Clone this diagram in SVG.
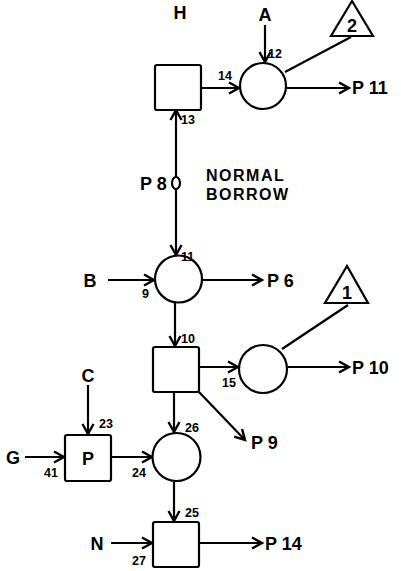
<svg xmlns="http://www.w3.org/2000/svg" width="401" height="571" viewBox="0 0 401 571">
<defs>
<marker id="ah" markerUnits="userSpaceOnUse" markerWidth="16" markerHeight="16" refX="11" refY="7" orient="auto">
<path d="M1,1.5 L11,7 L1,12.5" fill="none" stroke="#000" stroke-width="2.4" stroke-linejoin="miter"/>
</marker>
</defs>
<style>
.n{fill:#fff;stroke:#000;stroke-width:2.2}
.c line,.c path{stroke:#000;stroke-width:2.2;fill:none}
.a{marker-end:url(#ah)}
.t{font-family:"Liberation Sans",Arial,sans-serif;font-weight:bold;font-size:18px;fill:#000}
.s{font-family:"Liberation Sans",Arial,sans-serif;font-weight:bold;font-size:12.5px;fill:#000}
.m{font-family:"Liberation Sans",Arial,sans-serif;font-weight:bold;font-size:16px;fill:#000;letter-spacing:1.5px}
</style>
<rect width="401" height="571" fill="#fff"/>
<g class="c" id="connectors">
<line class="a" x1="201" y1="88" x2="239" y2="88"/>
<line class="a" x1="265" y1="25" x2="265" y2="62"/>
<line x1="285" y1="72" x2="351" y2="37"/>
<line class="a" x1="287" y1="88" x2="349" y2="88"/>
<line class="a" x1="176" y1="177" x2="176" y2="110"/>
<line class="a" x1="176" y1="189" x2="176" y2="255"/>
<line class="a" x1="108" y1="280" x2="154" y2="280"/>
<line class="a" x1="202" y1="280" x2="262" y2="280"/>
<line class="a" x1="175" y1="303" x2="175" y2="346"/>
<line class="a" x1="199" y1="367" x2="238" y2="367"/>
<line x1="282" y1="349" x2="348" y2="305"/>
<line class="a" x1="288" y1="367" x2="349" y2="367"/>
<line class="a" x1="88" y1="385" x2="88" y2="434"/>
<line class="a" x1="25" y1="457" x2="64" y2="457"/>
<line class="a" x1="111" y1="457" x2="152" y2="457"/>
<line class="a" x1="174" y1="392" x2="174" y2="432"/>
<line class="a" x1="199" y1="392" x2="245" y2="440"/>
<line class="a" x1="174" y1="482" x2="174" y2="521"/>
<line class="a" x1="111" y1="543" x2="152" y2="543"/>
<line class="a" x1="199" y1="543" x2="262" y2="543"/>
</g>
<g id="H"><text class="t" x="180" y="19" text-anchor="middle">H</text></g>
<g id="A"><text class="t" x="265" y="21" text-anchor="middle">A</text></g>
<g id="sq13"><rect class="n" x="155" y="65" width="46" height="45" rx="2"/></g>
<g id="c14"><circle class="n" cx="263" cy="86" r="23"/></g>
<g id="tri2"><path class="n" d="M352,1 L331,36 L373,36 Z"/><text class="t" x="352" y="32" text-anchor="middle">2</text></g>
<g id="p8"><ellipse class="n" cx="176" cy="183" rx="4" ry="6"/></g>
<g id="cB"><circle class="n" cx="178.5" cy="279" r="23.5"/></g>
<g id="sq10"><rect class="n" x="153" y="347" width="46" height="45" rx="2"/></g>
<g id="c15"><circle class="n" cx="263" cy="369" r="24"/></g>
<g id="tri1"><path class="n" d="M347,266 L325,303 L368,303 Z"/><text class="t" x="347" y="299" text-anchor="middle">1</text></g>
<g id="sqP"><rect class="n" x="65" y="435" width="46" height="46" rx="2"/><text class="t" x="88" y="465" text-anchor="middle">P</text></g>
<g id="c26"><circle class="n" cx="176.5" cy="457" r="24"/></g>
<g id="sq27"><rect class="n" x="153" y="522" width="46" height="45" rx="2"/></g>
<g id="labels">
<text class="t" x="352" y="94">P 11</text>
<text class="t" x="140" y="190">P 8</text>
<text class="m" x="206" y="181">NORMAL</text>
<text class="m" x="206" y="200">BORROW</text>
<text class="t" x="90" y="287" text-anchor="middle">B</text>
<text class="t" x="267" y="287">P 6</text>
<text class="t" x="352" y="374">P 10</text>
<text class="t" x="88" y="382" text-anchor="middle">C</text>
<text class="t" x="13" y="464" text-anchor="middle">G</text>
<text class="t" x="251" y="449">P 9</text>
<text class="t" x="97" y="550" text-anchor="middle">N</text>
<text class="t" x="265" y="550">P 14</text>
<text class="s" x="268" y="58">12</text>
<text class="s" x="218" y="80">14</text>
<text class="s" x="181" y="124">13</text>
<text class="s" x="181" y="261">11</text>
<text class="s" x="142" y="298">9</text>
<text class="s" x="181" y="343">10</text>
<text class="s" x="222" y="387">15</text>
<text class="s" x="99" y="428">23</text>
<text class="s" x="185" y="432">26</text>
<text class="s" x="44" y="477">41</text>
<text class="s" x="132" y="477">24</text>
<text class="s" x="185" y="517">25</text>
<text class="s" x="132" y="565">27</text>
</g>
</svg>
